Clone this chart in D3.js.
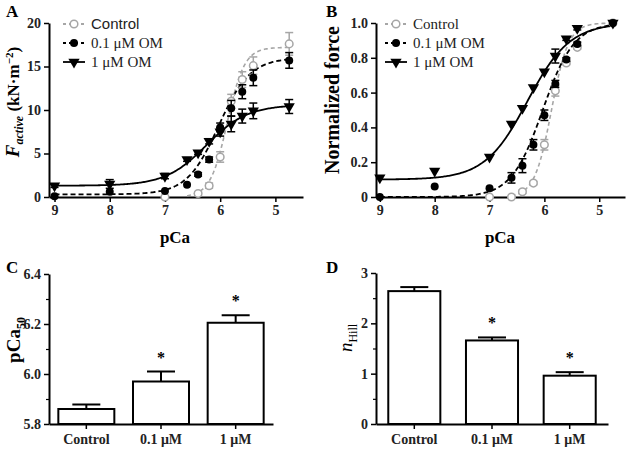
<!DOCTYPE html>
<html><head><meta charset="utf-8">
<script src="https://cdn.jsdelivr.net/npm/d3@7"></script>
<style>
body{margin:0;background:#fff;}
svg{display:block;font-family:"Liberation Serif","Times New Roman",serif;}
</style></head>
<body><svg id="c" width="629" height="450"></svg>
<script>
// ---- data ----
const pCa = [9, 8, 7, 6.6, 6.4, 6.2, 6.0, 5.8, 5.6, 5.4, 4.75];
const seriesNames = ["Control", "0.1 \u03bcM OM", "1 \u03bcM OM"];
// Panel A: active force (kN·m^-2)
const forceControl = [null, null, 0.0, null, 0.4, 1.3, 4.6, 11.0, 13.5, 15.1, 17.6];
const forceControlErr = [0, 0, 0, 0, 0.2, 0.3, 0.6, 0.8, 0.9, 1.0, 1.3];
const force01 = [0.1, 0.6, 0.7, 1.4, 2.6, 4.3, 8.0, 10.2, 12.1, 13.7, 15.7];
const force01Err = [0, 0, 0, 0, 0.2, 0.3, 0.5, 0.9, 0.8, 0.9, 0.9];
const force1 = [1.3, 1.5, 2.4, 4.3, 5.1, 6.4, 7.5, 8.4, 9.3, 9.9, 10.4];
const force1Err = [0.2, 0.5, 0.3, 0.2, 0.2, 0.3, 0.5, 0.9, 0.8, 0.9, 0.8];
// Panel B: normalized force
const normControl = [null, null, 0.0, 0.0, 0.03, 0.08, 0.30, 0.61, 0.77, 0.86, 1.0];
const normControlErr = [0, 0, 0, 0, 0.01, 0.01, 0.03, 0.03, 0.01, 0.01, 0];
const norm01 = [0.0, 0.06, 0.05, 0.11, 0.18, 0.30, 0.47, 0.65, 0.79, 0.88, 1.0];
const norm01Err = [0, 0, 0, 0.03, 0.04, 0.03, 0.03, 0.02, 0.01, 0.01, 0];
const norm1 = [0.11, 0.15, 0.23, 0.42, 0.51, 0.63, 0.72, 0.81, 0.91, 0.97, 1.0];
const norm1Err = [0, 0, 0, 0, 0, 0, 0, 0.04, 0.01, 0.01, 0];
// Hill fit parameters [min, max, pCa50, nHill] per series
const fitA = [[0, 17.2, 5.87, 2.81], [0.3, 16.0, 6.03, 1.52], [1.3, 10.6, 6.25, 1.17]];
const fitB = [[0, 1, 5.87, 2.81], [0, 1, 6.03, 1.52], [0.1, 1, 6.31, 1.12]];
// Panels C & D
const groups = ["Control", "0.1 \u03bcM", "1 \u03bcM"];
const pCa50 = [5.86, 5.97, 6.205];
const pCa50Err = [0.018, 0.04, 0.03];
const nHill = [2.64, 1.66, 0.96];
const nHillErr = [0.08, 0.06, 0.07];
const significant = [false, true, true];

// ---- drawing ----
const svg = d3.select("#c");
const BOLD = "bold";

function styleAxis(g, fs) {
  g.selectAll("path.domain").attr("stroke", "#000").attr("stroke-width", 2);
  g.selectAll(".tick line").attr("stroke", "#000").attr("stroke-width", 1.5);
  g.selectAll(".tick text").attr("font-family", "Liberation Serif").attr("font-weight", "bold")
    .attr("font-size", fs).attr("fill", "#222");
}

function hill(p, f) { return f[0] + (f[1] - f[0]) / (1 + Math.pow(10, f[3] * (p - f[2]))); }

const triPath = d3.symbol().type(d3.symbolTriangle).size(55)();

function drawCurvePanel(cfg) {
  const x = d3.scaleLinear().domain(cfg.xdom).range(cfg.xr);
  const y = d3.scaleLinear().domain(cfg.ydom).range(cfg.yr);
  const g = svg.append("g");
  const xa = g.append("g").attr("transform", `translate(0,${cfg.yr[0]})`)
    .call(d3.axisBottom(x).tickValues([9, 8, 7, 6, 5]).tickFormat(d3.format("d")).tickSize(5).tickSizeOuter(0).tickPadding(3));
  styleAxis(xa, 14);
  const ya = g.append("g").attr("transform", `translate(${cfg.xr[0]},0)`)
    .call(d3.axisLeft(y).tickValues(cfg.yticks).tickFormat(cfg.yfmt).tickSize(5).tickSizeOuter(0).tickPadding(3));
  styleAxis(ya, 14);
  const colors = ["#a6a6a6", "#000", "#000"];
  const dash = ["4,3", "5,3", null];
  const px = d3.range(9, 4.74, -0.02);
  cfg.fits.forEach((f, si) => {
    const line = d3.line().x(p => x(p)).y(p => y(hill(p, f)));
    const startP = si === 0 ? 6.6 : 9;
    g.append("path").datum(px.filter(p => p <= startP)).attr("d", line)
      .attr("fill", "none").attr("stroke", colors[si]).attr("stroke-width", si === 0 ? 1.6 : 1.8)
      .attr("stroke-dasharray", dash[si]);
  });
  cfg.series.forEach((vals, si) => {
    const errs = cfg.errs[si];
    const pts = pCa.map((p, i) => ({p, v: vals[i], e: errs[i]})).filter(d => d.v !== null);
    const eg = g.append("g").attr("stroke", colors[si]).attr("stroke-width", 1.5);
    pts.filter(d => d.e > 0).forEach(d => {
      const cx = x(d.p);
      eg.append("line").attr("x1", cx).attr("x2", cx).attr("y1", y(d.v - d.e)).attr("y2", y(d.v + d.e));
      [d.v - d.e, d.v + d.e].forEach(v => eg.append("line").attr("x1", cx - 4).attr("x2", cx + 4).attr("y1", y(v)).attr("y2", y(v)));
    });
    const mg = g.append("g");
    pts.forEach(d => {
      if (si === 0) mg.append("circle").attr("cx", x(d.p)).attr("cy", y(d.v)).attr("r", 3.8)
        .attr("fill", "#fff").attr("stroke", colors[0]).attr("stroke-width", 1.5);
      else if (si === 1) mg.append("circle").attr("cx", x(d.p)).attr("cy", y(d.v)).attr("r", 4).attr("fill", "#000");
      else mg.append("path").attr("d", triPath).attr("transform", `translate(${x(d.p)},${y(d.v)}) rotate(180)`).attr("fill", "#000");
    });
  });
  const lg = g.append("g");
  cfg.legendNames.forEach((n, si) => {
    const ly = cfg.legend[1] + si * 19;
    const lx = cfg.legend[0];
    lg.append("line").attr("x1", lx).attr("x2", lx + 22).attr("y1", ly).attr("y2", ly)
      .attr("stroke", colors[si]).attr("stroke-width", 1.8).attr("stroke-dasharray", dash[si] ? "3,3" : null);
    if (si === 0) lg.append("circle").attr("cx", lx + 11).attr("cy", ly).attr("r", 3.8).attr("fill", "#fff").attr("stroke", colors[0]).attr("stroke-width", 1.5);
    else if (si === 1) lg.append("circle").attr("cx", lx + 11).attr("cy", ly).attr("r", 4).attr("fill", "#000");
    else lg.append("path").attr("d", triPath).attr("transform", `translate(${lx + 11},${ly}) rotate(180)`).attr("fill", "#000");
    lg.append("text").attr("x", lx + 28).attr("y", ly + 5).attr("font-size", 15).attr("fill", "#222")
      .attr("font-family", (si === 0 && cfg.sansControl) ? "Liberation Sans" : "Liberation Serif")
      .text(n);
  });
  g.append("text").attr("x", cfg.xlabelX).attr("y", 243).attr("text-anchor", "middle")
    .attr("font-size", 17).attr("font-weight", BOLD).text("pCa");
}

drawCurvePanel({
  xdom: [9.1, 4.5], xr: [49, 303], ydom: [0, 20], yr: [197, 23],
  yticks: [0, 5, 10, 15, 20], yfmt: d3.format("d"),
  fits: fitA, series: [forceControl, force01, force1], errs: [forceControlErr, force01Err, force1Err],
  legend: [63, 24], legendNames: seriesNames, sansControl: true, xlabelX: 175
});
drawCurvePanel({
  xdom: [9.07, 4.53], xr: [376, 625], ydom: [0, 1], yr: [197, 23],
  yticks: [0, 0.2, 0.4, 0.6, 0.8, 1.0], yfmt: d => d === 0 ? "0" : d3.format(".1f")(d),
  fits: fitB, series: [normControl, norm01, norm1], errs: [normControlErr, norm01Err, norm1Err],
  legend: [385, 24], legendNames: seriesNames, sansControl: false, xlabelX: 500
});

const yl = svg.append("text").attr("transform", "translate(19,102) rotate(-90)").attr("text-anchor", "middle")
  .attr("font-size", 17).attr("font-weight", BOLD);
yl.append("tspan").attr("font-style", "italic").attr("font-size", 19).text("F");
yl.append("tspan").attr("font-style", "italic").attr("font-size", 12).attr("dy", 4).text("active");
yl.append("tspan").attr("dy", -4).text(" (kN\u00b7m");
yl.append("tspan").attr("font-size", 11).attr("dy", -6).text("\u22122");
yl.append("tspan").attr("dy", 6).text(")");
svg.append("text").attr("transform", "translate(339,100) rotate(-90)").attr("text-anchor", "middle")
  .attr("font-size", 20).attr("font-weight", BOLD).text("Normalized force");

function drawBarPanel(cfg) {
  const x = d3.scaleBand().domain(groups).range(cfg.xr).paddingInner(cfg.pi).paddingOuter(cfg.po);
  const y = d3.scaleLinear().domain(cfg.ydom).range(cfg.yr);
  const g = svg.append("g");
  cfg.vals.forEach((v, i) => {
    const cx = x(groups[i]) + x.bandwidth() / 2;
    const top = y(v + cfg.errs[i]);
    g.append("line").attr("x1", cx).attr("x2", cx).attr("y1", y(v)).attr("y2", top).attr("stroke", "#000").attr("stroke-width", 2);
    g.append("line").attr("x1", cx - 14).attr("x2", cx + 14).attr("y1", top).attr("y2", top).attr("stroke", "#000").attr("stroke-width", 2);
    if (significant[i]) g.append("text").attr("x", cx).attr("y", top - 9).attr("text-anchor", "middle")
      .attr("font-size", 16).attr("font-weight", BOLD).text("*");
  });
  g.selectAll("rect").data(cfg.vals).join("rect")
    .attr("x", (d, i) => x(groups[i])).attr("width", x.bandwidth())
    .attr("y", d => y(d)).attr("height", d => y(cfg.ydom[0]) - y(d))
    .attr("fill", "#fff").attr("stroke", "#000").attr("stroke-width", 2);
  const xa = g.append("g").attr("transform", `translate(0,${cfg.yr[0]})`)
    .call(d3.axisBottom(x).tickSize(5).tickSizeOuter(0).tickPadding(5));
  styleAxis(xa, 14);
  const ya = g.append("g").attr("transform", `translate(${cfg.xr[0]},0)`)
    .call(d3.axisLeft(y).tickValues(cfg.yticks).tickFormat(cfg.yfmt).tickSize(5).tickSizeOuter(0).tickPadding(3));
  styleAxis(ya, 14);
  const ym = g.append("g").attr("transform", `translate(${cfg.xr[0]},0)`)
    .call(d3.axisLeft(y).tickValues(cfg.minor).tickFormat("").tickSize(3).tickSizeOuter(0));
  ym.select("path.domain").remove();
  ym.selectAll(".tick line").attr("stroke", "#000").attr("stroke-width", 1.2);
}

drawBarPanel({
  xr: [49, 273], pi: 0.25, po: 0.125, ydom: [5.8, 6.4], yr: [424, 274],
  yticks: [5.8, 6.0, 6.2, 6.4], yfmt: d3.format(".1f"), minor: [5.9, 6.1, 6.3],
  vals: pCa50, errs: pCa50Err
});
drawBarPanel({
  xr: [376, 608], pi: 0.33, po: 0.158, ydom: [0, 3], yr: [424, 273],
  yticks: [0, 1, 2, 3], yfmt: d3.format("d"), minor: [0.5, 1.5, 2.5],
  vals: nHill, errs: nHillErr
});

const cl = svg.append("text").attr("transform", "translate(20,340) rotate(-90)").attr("text-anchor", "middle")
  .attr("font-size", 19).attr("font-weight", BOLD);
cl.append("tspan").text("pCa");
cl.append("tspan").attr("font-size", 12).attr("dy", 5).text("50");
const dl = svg.append("text").attr("transform", "translate(352,338) rotate(-90)").attr("text-anchor", "middle")
  .attr("font-size", 19);
dl.append("tspan").attr("font-style", "italic").text("n");
dl.append("tspan").attr("font-size", 12).attr("dy", 5).text("Hill");

[["A", 6, 17], ["B", 326, 17], ["C", 6, 273], ["D", 326, 273]].forEach(([t, x, y]) =>
  svg.append("text").attr("x", x).attr("y", y).attr("font-size", 17).attr("font-weight", BOLD).text(t));
</script></body></html>
